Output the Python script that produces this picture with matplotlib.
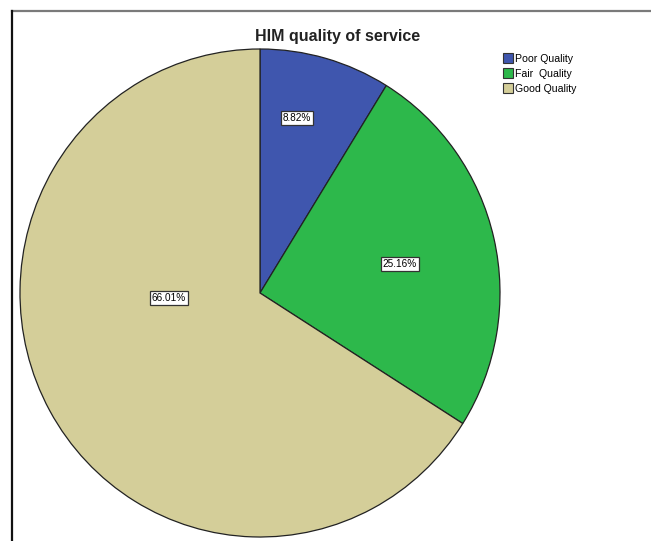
import matplotlib.pyplot as plt
from matplotlib.lines import Line2D
import numpy as np

plt.rcParams['font.family'] = ['Liberation Sans', 'DejaVu Sans']

categories = ["Poor Quality", "Fair  Quality", "Good Quality"]
shares = [8.82, 25.16, 66.01]
colors = ["#3F56AE", "#2DB84B", "#D4CE99"]

# where each percent box sits: (fraction of radius, angle in degrees)
label_spots = [(0.733, 77.9), (0.595, 11.5), (0.38, 183.0)]

W, H = 651, 541
cx, cy = 260, 293
rx, ry = 240, 244

fig = plt.figure(figsize=(W / 100, H / 100), dpi=100)
ax = fig.add_axes([0, 0, 1, 1])
ax.axis("off")

wedges, _ = ax.pie(shares, colors=colors, startangle=90, counterclock=False,
                   wedgeprops=dict(edgecolor="#222222", linewidth=0.9))
ax.set_aspect("auto")
ax.set_xlim(-cx / rx, (W - cx) / rx)
ax.set_ylim((cy - H) / ry, cy / ry)

for val, (r, ang) in zip(shares, label_spots):
    a = np.deg2rad(ang)
    ax.text(r * np.cos(a), r * np.sin(a), f"{val:.2f}%", fontsize=7.2,
            ha="center", va="center",
            bbox=dict(boxstyle="square,pad=0.2", fc="white", ec="#333333", lw=0.9))

fig.text(338 / W, 1 - 37 / H, "HIM quality of service", fontsize=11.5,
         fontweight="bold", ha="center", va="center", color="#222222")

# frame around the chart
fig.add_artist(Line2D([12 / W, 1], [1 - 11 / H, 1 - 11 / H], color="#7a7a7a", lw=1.6))
fig.add_artist(Line2D([12 / W, 12 / W], [0, 1 - 11 / H], color="#111111", lw=1.6))

handles = [plt.Rectangle((0, 0), 1, 1, fc=c, ec="#333333", lw=0.8) for c in colors]
fig.legend(handles, categories, loc="upper left", bbox_to_anchor=(498 / W, 1 - 48 / H),
           frameon=False, fontsize=7.6, handlelength=0.95, handleheight=1.0,
           handletextpad=0.2, labelspacing=0.45, borderpad=0)

fig.savefig("out.png", dpi=100)
